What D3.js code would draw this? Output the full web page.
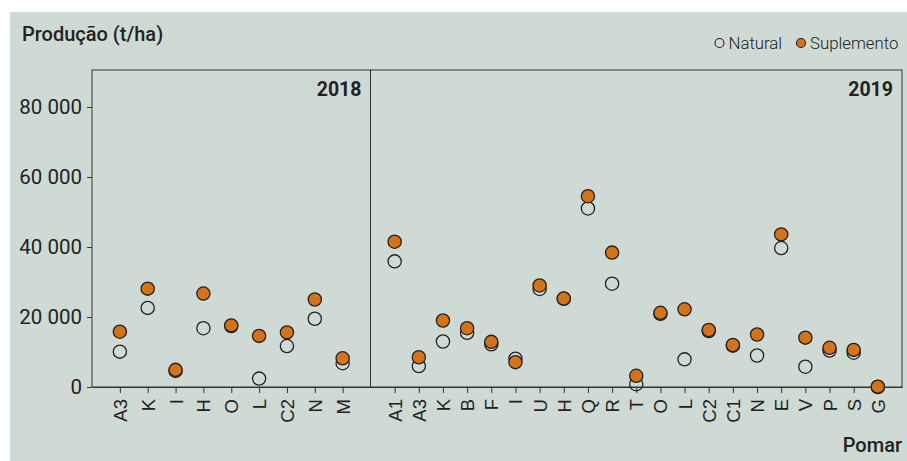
<!DOCTYPE html>
<html><head><meta charset="utf-8">
<script src="https://cdn.jsdelivr.net/npm/d3@7"></script>
<style>
html,body{margin:0;padding:0;background:#fff;}
svg{display:block;}
</style></head>
<body>
<svg id="chart" width="907" height="461"></svg>
<script>
// ---- data ----
const cats2018 = ["A3","K","I","H","O","L","C2","N","M"];
const natural2018 = [10100, 22600, 4600, 16800, 17400, 2400, 11700, 19500, 6800];
const suplemento2018 = [15800, 28100, 4900, 26700, 17600, 14600, 15600, 25000, 8200];

const cats2019 = ["A1","A3","K","B","F","I","U","H","Q","R","T","O","L","C2","C1","N","E","V","P","S","G"];
const natural2019 = [35900, 6000, 13000, 15500, 12200, 8100, 28000, 25200, 51000, 29500, 800, 20900, 7900, 16000, 11800, 9000, 39700, 5800, 10400, 9800, 0];
const suplemento2019 = [41500, 8500, 19000, 16800, 12900, 7100, 29000, 25300, 54500, 38400, 3200, 21200, 22200, 16300, 12000, 15000, 43600, 14100, 11200, 10600, 100];

const yTicks = [0, 20000, 40000, 60000, 80000];
const years = ["2018", "2019"];
const legendLabels = ["Natural", "Suplemento"];

(function () {
// ---- styles ----
const bg = "#d0dad5";
const orange = "#d5731b";
const ink = "#222";

const svg = d3.select("#chart");
svg.append("rect").attr("x", 10).attr("y", 12).attr("width", 897).attr("height", 449).attr("fill", bg);

const plotTop = 70, plotBottom = 387;
const y = d3.scaleLinear().domain([0, 90570]).range([plotBottom, plotTop]);

const panels = [
  {year: years[0], cats: cats2018, nat: natural2018, sup: suplemento2018, x0: 92, x1: 370.5},
  {year: years[1], cats: cats2019, nat: natural2019, sup: suplemento2019, x0: 370.5, x1: 902}
];

const fmt = v => d3.format(",")(v).replace(/,/g, " ");

// y axis
const yAxis = d3.axisLeft(y).tickValues(yTicks).tickSize(5).tickPadding(5).tickFormat(fmt);
const gy = svg.append("g").attr("transform", "translate(92,0)").call(yAxis);
gy.select(".domain").remove();
gy.selectAll(".tick line").attr("stroke", "#333");
gy.selectAll(".tick text").attr("fill", ink).style("font-family", "Roboto, sans-serif").style("font-size", "20.5px");

panels.forEach(p => {
  const x = d3.scalePoint().domain(p.cats).range([p.x0, p.x1]).padding(1);
  // frame
  svg.append("rect").attr("x", p.x0).attr("y", plotTop).attr("width", p.x1 - p.x0).attr("height", plotBottom - plotTop)
    .attr("fill", "none").attr("stroke", "#333").attr("stroke-width", 1);
  // x axis
  const gx = svg.append("g").attr("transform", `translate(0,${plotBottom})`)
    .call(d3.axisBottom(x).tickSize(6).tickSizeOuter(0));
  gx.select(".domain").attr("stroke", "#333");
  gx.selectAll(".tick line").attr("stroke", "#333");
  gx.selectAll(".tick text")
    .attr("fill", ink)
    .style("font-family", "'Liberation Sans', Arial, sans-serif").style("font-size", "18.5px")
    .attr("transform", "rotate(-90)")
    .attr("text-anchor", "end")
    .attr("x", -12).attr("y", 0).attr("dy", "0.35em");
  // year label
  svg.append("text").attr("x", p.x1 - 9).attr("y", 96).attr("text-anchor", "end")
    .style("font-family", "Roboto, sans-serif").style("font-size", "19.5px").style("font-weight", "700")
    .attr("fill", ink).text(p.year);
  // points: natural then suplemento
  const g = svg.append("g");
  g.selectAll("circle.nat").data(p.cats).join("circle").attr("class", "nat")
    .attr("cx", d => x(d)).attr("cy", (d, i) => y(p.nat[i])).attr("r", 6.6)
    .attr("fill", "none").attr("stroke", ink).attr("stroke-width", 1.3);
  g.selectAll("circle.sup").data(p.cats).join("circle").attr("class", "sup")
    .attr("cx", d => x(d)).attr("cy", (d, i) => y(p.sup[i])).attr("r", 6.6)
    .attr("fill", orange).attr("stroke", ink).attr("stroke-width", 1.3);
});

// title
svg.append("text").attr("x", 22).attr("y", 41)
  .style("font-family", "Roboto, sans-serif").style("font-size", "20px").style("font-weight", "500")
  .attr("fill", ink).text("Produção (t/ha)");

// x title
svg.append("text").attr("x", 902).attr("y", 452).attr("text-anchor", "end")
  .style("font-family", "Roboto, sans-serif").style("font-size", "20px").style("font-weight", "500")
  .attr("fill", ink).text("Pomar");

// legend
const legend = svg.append("g");
const legItems = [
  {label: legendLabels[0], fill: "none", cx: 719.5, tx: 728.5},
  {label: legendLabels[1], fill: orange, cx: 801, tx: 810}
];
legItems.forEach(it => {
  legend.append("circle").attr("cx", it.cx).attr("cy", 43).attr("r", 4.5)
    .attr("fill", it.fill).attr("stroke", ink).attr("stroke-width", 1.1);
  legend.append("text").attr("x", it.tx).attr("y", 48.5)
    .style("font-family", "Roboto, sans-serif").style("font-size", "16.8px").style("font-weight", "300")
    .attr("fill", ink).text(it.label);
});
})();
</script>
</body></html>
